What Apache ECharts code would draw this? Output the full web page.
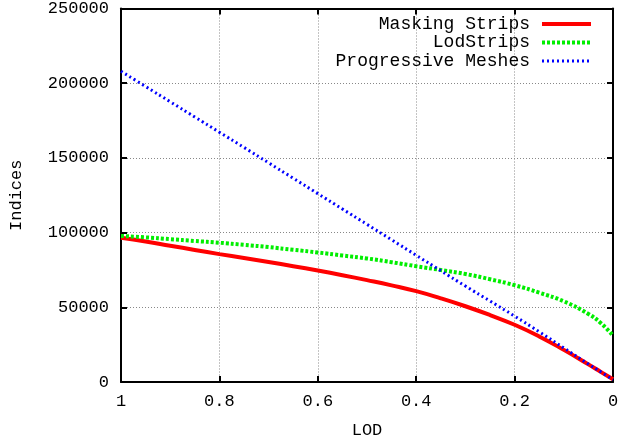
<!DOCTYPE html>
<html lang="en">
<head>
	<meta charset="UTF-8">
	<title>Indices vs LOD</title>
	<script src="https://cdn.jsdelivr.net/npm/echarts@6/dist/echarts.min.js"></script>
	<style>
		html, body { margin: 0; padding: 0; background: #fff; }
		#main { width: 623px; height: 444px; }
	</style>
</head>
<body>
	<div id="main"></div>
<script>
// LOD samples (x)
var lod = [1, 0.95, 0.9, 0.85, 0.8, 0.75, 0.7, 0.65, 0.6, 0.55, 0.5, 0.45, 0.4, 0.35, 0.3, 0.25, 0.2, 0.15, 0.1, 0.05, 0.025, 0];
var maskingStrips = [96500, 94000, 91200, 88400, 85600, 83000, 80300, 77500, 74600, 71500, 68200, 64700, 60800, 56000, 50700, 44800, 38300, 30500, 21500, 11800, 6800, 1800];
var lodStrips = [97800, 96800, 95600, 94400, 93200, 91800, 90300, 88500, 86700, 84700, 82700, 80200, 77500, 75000, 72300, 68800, 64800, 59800, 54000, 45500, 39500, 31000];
var progressiveMeshes = [208000, 197800, 187600, 177400, 167200, 157000, 146700, 136400, 126100, 115800, 105500, 95200, 84800, 74500, 64200, 54200, 44100, 33600, 22800, 12000, 6800, 1500];
var seriesNames = ['Masking Strips', 'LodStrips', 'Progressive Meshes'];
var seriesColors = ['#ff0000', '#00ee00', '#0000ff'];
var seriesWidths = [4, 4, 3];
var seriesDash = ['solid', [3, 2], [2, 3]];

var FONT = 'Liberation Mono';

function pairs(ys) {
	return lod.map(function (x, i) { return [x, ys[i]]; });
}

// gnuplot style: box border, ticks pointing inwards on all four sides
function line() {
	return { show: true, onZero: false, lineStyle: { color: '#000', width: 2 } };
}
function tick() {
	return { show: true, inside: true, length: 6, lineStyle: { color: '#000', width: 2 } };
}
var gridLine = { show: true, lineStyle: { color: '#888', width: 1, type: [1, 2] } };

var chart = echarts.init(document.getElementById('main'));

var option = {
	animation: false,
	grid: { left: 121, right: 10, top: 8, bottom: 58 },
	legend: {
		orient: 'vertical',
		right: 25,
		top: 10,
		align: 'right',
		itemWidth: 49,
		itemHeight: 14,
		itemGap: 0.5,
		itemStyle: { opacity: 0 },
		textStyle: { fontFamily: FONT, fontSize: 18, color: '#000', padding: [0, 7, 0, 0] },
		data: seriesNames.map(function (n, i) {
			return {
				name: n,
				lineStyle: { color: seriesColors[i], width: seriesWidths[i], type: seriesDash[i] }
			};
		})
	},
	xAxis: [
		{
			type: 'value',
			inverse: true,
			min: 0,
			max: 1,
			interval: 0.2,
			name: 'LOD',
			nameLocation: 'middle',
			nameGap: 40,
			nameTextStyle: { fontFamily: FONT, fontSize: 17, color: '#000' },
			axisLine: line(),
			axisTick: tick(),
			axisLabel: {
				margin: 11,
				fontFamily: FONT, fontSize: 17, color: '#000',
				formatter: function (v) { return String(Math.round(v * 10) / 10); }
			},
			splitLine: gridLine
		},
		{
			type: 'value',
			position: 'top',
			inverse: true,
			min: 0,
			max: 1,
			interval: 0.2,
			axisLine: line(),
			axisTick: tick(),
			axisLabel: { show: false },
			splitLine: { show: false }
		}
	],
	yAxis: [
		{
			type: 'value',
			min: 0,
			max: 250000,
			interval: 50000,
			name: 'Indices',
			nameLocation: 'middle',
			nameGap: 96,
			nameTextStyle: { fontFamily: FONT, fontSize: 17, color: '#000' },
			axisLine: line(),
			axisTick: tick(),
			axisLabel: {
				margin: 12, fontFamily: FONT, fontSize: 17, color: '#000',
				formatter: function (v) { return String(v); }
			},
			splitLine: gridLine
		},
		{
			type: 'value',
			position: 'right',
			min: 0,
			max: 250000,
			interval: 50000,
			axisLine: line(),
			axisTick: tick(),
			axisLabel: { show: false },
			splitLine: { show: false }
		}
	],
	series: seriesNames.map(function (n, i) {
		return {
			name: n,
			type: 'line',
			smooth: true,
			symbol: 'none',
			color: seriesColors[i],
			lineStyle: { color: seriesColors[i], width: seriesWidths[i], type: seriesDash[i] },
			data: pairs([maskingStrips, lodStrips, progressiveMeshes][i]),
			z: 3 + i
		};
	})
};

chart.setOption(option);
</script>
</body>
</html>
